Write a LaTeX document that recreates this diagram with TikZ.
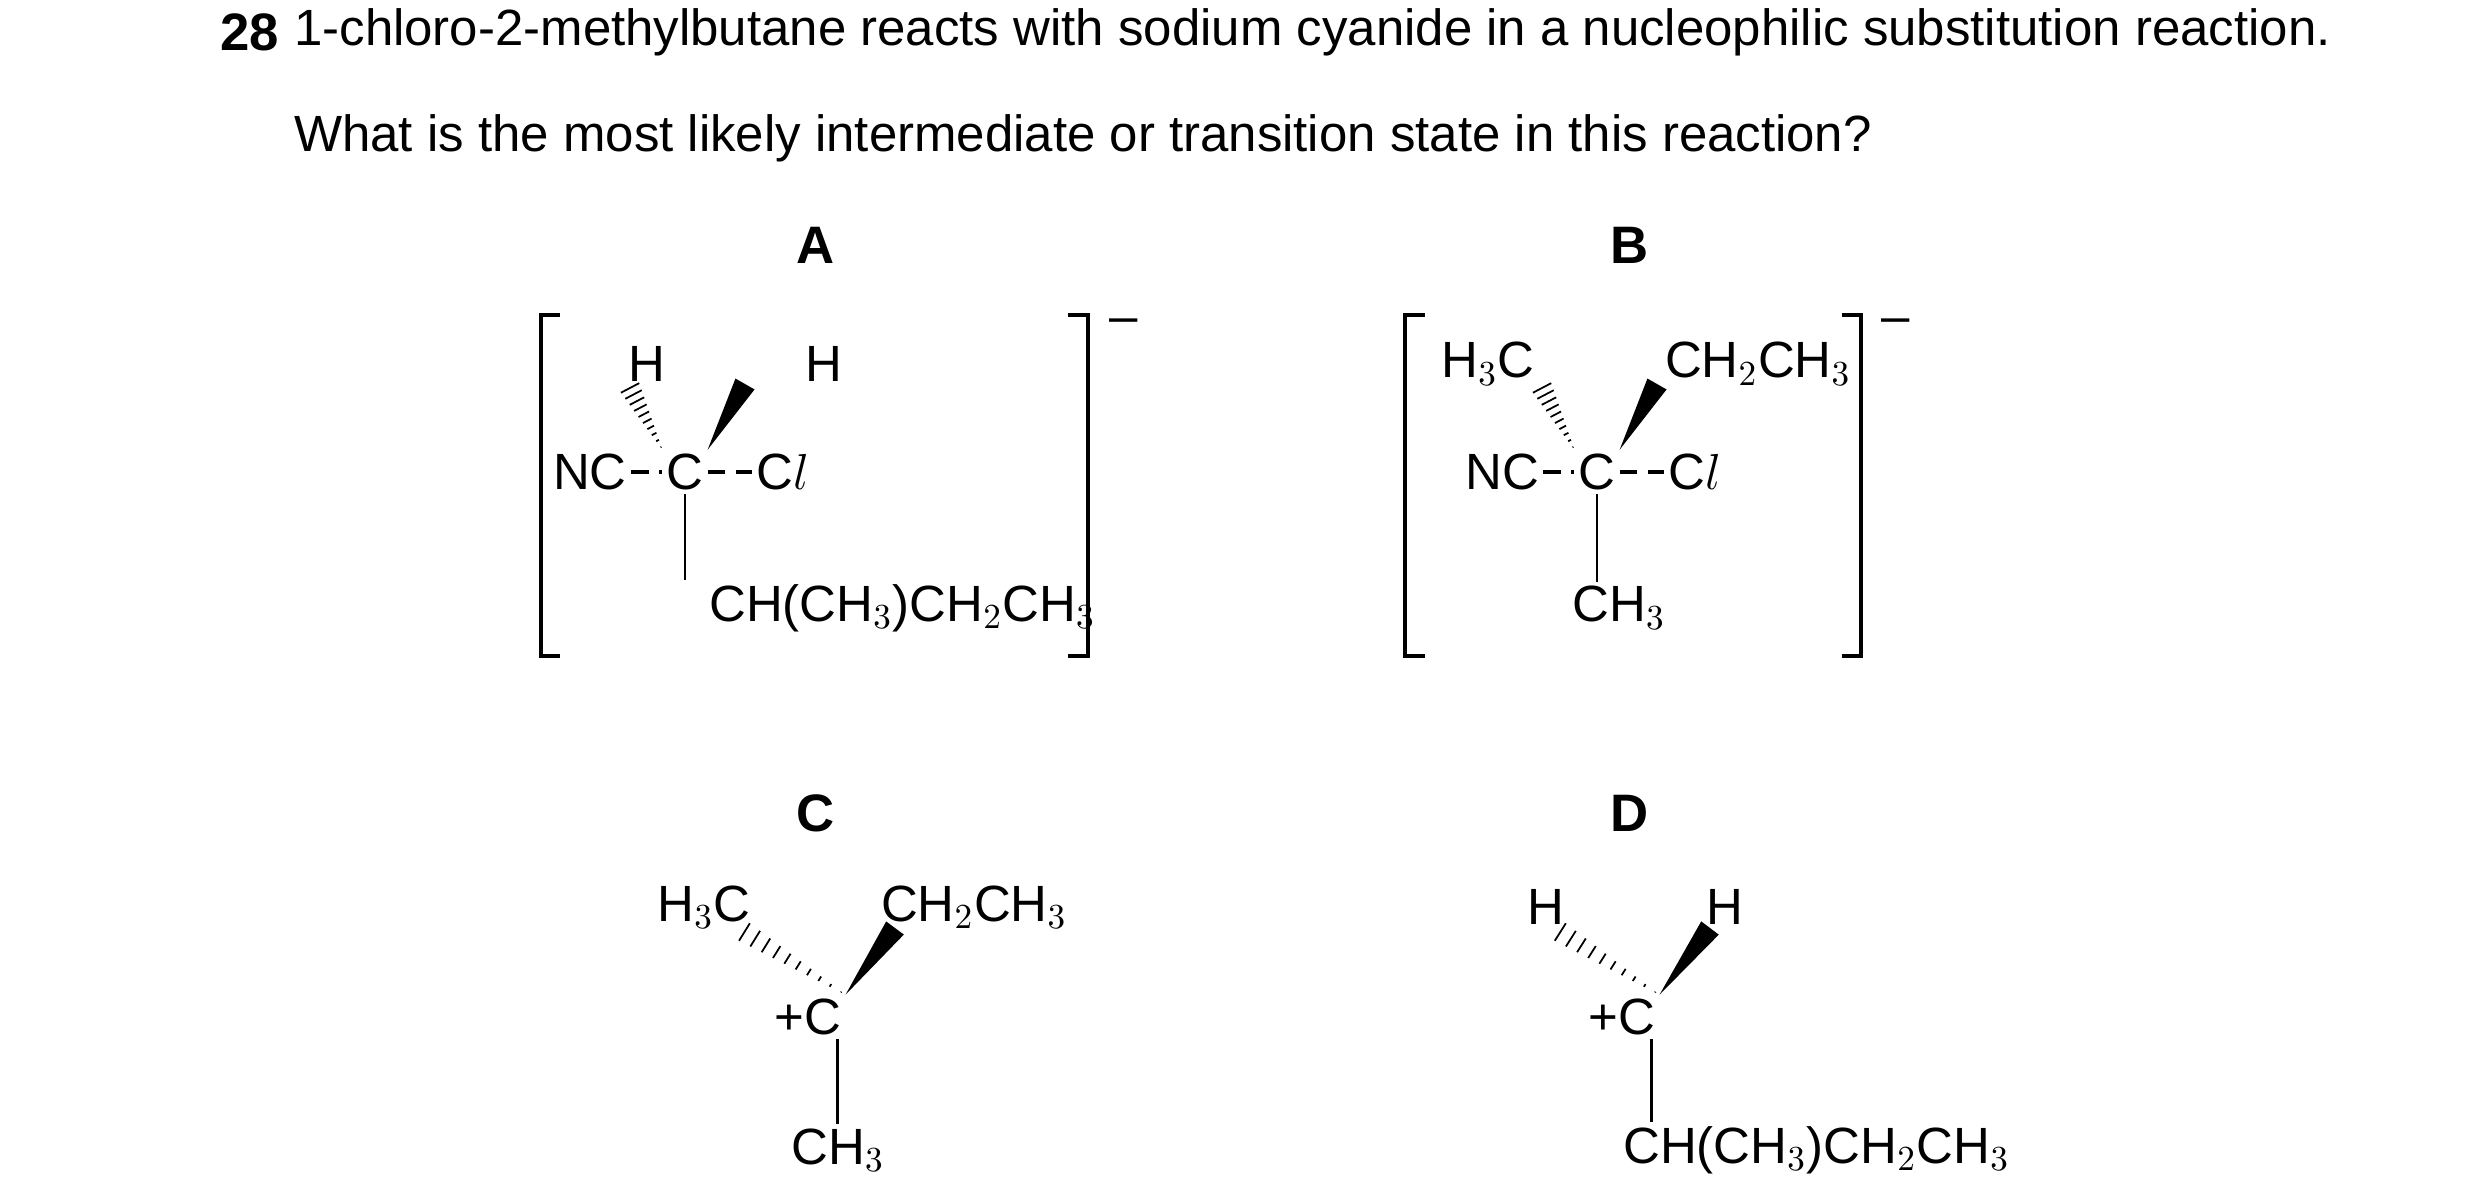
\documentclass[tikz,border=0pt]{standalone}
\usepackage{fontspec}
\setmainfont{Liberation Sans}
\usetikzlibrary{calc}
\newcommand{\hashbond}[2]{%
  \foreach \t in {0.04,0.14,...,1.0}{
    \path (#1) -- (#2) coordinate[pos=\t] (hb);
    \draw[line width=0.5pt] ($(hb)!{\t*1.1mm}!90:(#2)$) -- ($(hb)!{\t*1.1mm}!-90:(#2)$);
  }}
\newcommand{\wedgebond}[2]{%
  \fill (#1) -- ($(#2)!1.1mm!90:(#1)$) -- ($(#2)!1.1mm!-90:(#1)$) -- cycle;}
\begin{document}
\begin{tikzpicture}[x=0.1mm,y=-0.1mm,
    atom/.style={inner sep=1pt, font=\fontsize{14.5}{17}\selectfont},
    tag/.style={font=\fontsize{15}{18}\selectfont\bfseries},
    single/.style={line width=0.8pt},
    partial/.style={line width=1.2pt, dash pattern=on 5pt off 3pt},
    bracket/.style={line width=1.3pt}
  ]
  \useasboundingbox (0,0) rectangle (2480,1203);
  %Question
  \node[tag, anchor=west] (num) at (208,32) {28};
  \node[atom, anchor=west, font=\fontsize{14.5}{17}\selectfont] (q1) at (290,32) {1-chloro-2-methylbutane reacts with sodium cyanide in a nucleophilic substitution reaction.};
  \node[atom, anchor=west, font=\fontsize{14.5}{17}\selectfont] (q2) at (290,138) {What is the most likely intermediate or transition state in this reaction?};
  %Labels
  \node[tag] (la) at (816,245) {A};
  \node[tag] (lb) at (1630,245) {B};
  \node[tag] (lc) at (816,813) {C};
  \node[tag] (ld) at (1630,813) {D};

  %A
  \node[atom] (ca) at (685,472) {C};
  \node[atom] (nca) at (590,472) {NC};
  \node[atom] (cla) at (783,472) {C$l$};
  \node[atom] (ha1) at (647,364) {H};
  \node[atom] (ha2) at (824,364) {H};
  \node[atom, anchor=west] (ra) at (705,608) {CH(CH$_3$)CH$_2$CH$_3$};
  \coordinate (ha1e) at (628,384);
  \coordinate (ha2e) at (745,384);
  \draw[partial] (nca) -- (ca);
  \draw[partial] (ca) -- (cla);
  \draw[single] (ca.south) -- (ca.south |- ra.north);
  \hashbond{ca.north west}{ha1e}
  \wedgebond{ca.north east}{ha2e}
  \draw[bracket] (560,315) -| (541,656) -- (560,656);
  \draw[bracket] (1068,315) -| (1088,656) -- (1068,656);
  \node[atom] (mia) at (1124,326) {--};

  %B
  \node[atom] (cb) at (1597,472) {C};
  \node[atom] (ncb) at (1502,472) {NC};
  \node[atom] (clb) at (1695,472) {C$l$};
  \node[atom] (hb1) at (1488,364) {H$_3$C};
  \node[atom] (hb2) at (1758,364) {CH$_2$CH$_3$};
  \node[atom] (rb) at (1619,608) {CH$_3$};
  \coordinate (hb1e) at (1540,384);
  \coordinate (hb2e) at (1657,384);
  \draw[partial] (ncb) -- (cb);
  \draw[partial] (cb) -- (clb);
  \draw[single] (cb.south) -- (cb.south |- rb.north);
  \hashbond{cb.north west}{hb1e}
  \wedgebond{cb.north east}{hb2e}
  \draw[bracket] (1425,315) -| (1405,656) -- (1425,656);
  \draw[bracket] (1842,315) -| (1861,656) -- (1842,656);
  \node[atom] (mib) at (1896,326) {--};

  %C
  \node[atom] (cc) at (808,1017) {+C};
  \node[atom] (hc1) at (704,907) {H$_3$C};
  \node[atom] (hc2) at (974,907) {CH$_2$CH$_3$};
  \node[atom] (rc) at (838,1150) {CH$_3$};
  \coordinate (hc1e) at (738,928);
  \coordinate (hc2e) at (895,928);
  \draw[single] (cc.south east) ++(-8,0) coordinate (ccs) -- (ccs |- rc.north);
  \hashbond{cc.north east}{hc1e}
  \wedgebond{cc.north east}{hc2e}

  %D
  \node[atom] (cd) at (1622,1017) {+C};
  \node[atom] (hd1) at (1546,907) {H};
  \node[atom] (hd2) at (1725,907) {H};
  \node[atom, anchor=west] (rd) at (1619,1150) {CH(CH$_3$)CH$_2$CH$_3$};
  \coordinate (hd1e) at (1554,928);
  \coordinate (hd2e) at (1710,928);
  \draw[single] (cd.south east) ++(-8,0) coordinate (cds) -- (cds |- rd.north);
  \hashbond{cd.north east}{hd1e}
  \wedgebond{cd.north east}{hd2e}
\end{tikzpicture}
\end{document}
